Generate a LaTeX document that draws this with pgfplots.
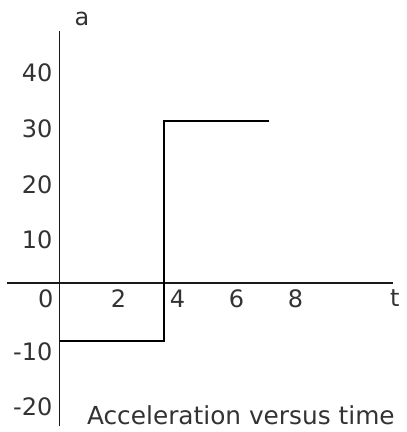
\documentclass[border=0pt]{standalone}
\usepackage{pgfplots}
\pgfplotsset{compat=1.18}
\usepackage{fontspec}
\setmainfont{DejaVu Sans}
\begin{document}
\begin{tikzpicture}
\begin{axis}[
  x=14.75pt, y=2.785pt,
  axis lines=middle,
  axis line style={-, line width=0.75pt, black!90},
  xmin=-1.78, xmax=11.3, ymin=-25.7, ymax=45.2,
  xtick={0,2,4,6,8},
  xticklabels={\makebox[0pt][r]{0\hspace{3pt}},2,4,6,8},
  hide obscured x ticks=false,
  ytick={-20,-10,10,20,30,40},
  yticklabels={-20,-10,10,20,30,40},
  major tick length=0pt,
  tick style={draw=none},
  yticklabel style={yshift=-6.4pt},
  every tick label/.append style={font=\fontsize{12}{14}\selectfont, text=black!80},
  clip=false,
  xlabel={t}, ylabel={a},
  every axis x label/.style={at={(rel axis cs:1.005,0.3245)},anchor=center,font=\fontsize{12}{14}\selectfont,text=black!80},
  every axis y label/.style={at={(rel axis cs:0.194,1.032)},anchor=center,font=\fontsize{12}{14}\selectfont,text=black!80},
]
\addplot[black, line width=0.75pt] coordinates {(0,-10.4) (3.54,-10.4) (3.54,29.1) (7.1,29.1)};
\node[font=\fontsize{12.4}{14}\selectfont, text=black!80, anchor=center, inner sep=0pt] at (rel axis cs:0.606,0.027) {Acceleration versus time};
\path (axis cs:-2.017,-26.75) rectangle (axis cs:11.68,50.8);
\end{axis}
\end{tikzpicture}
\end{document}
